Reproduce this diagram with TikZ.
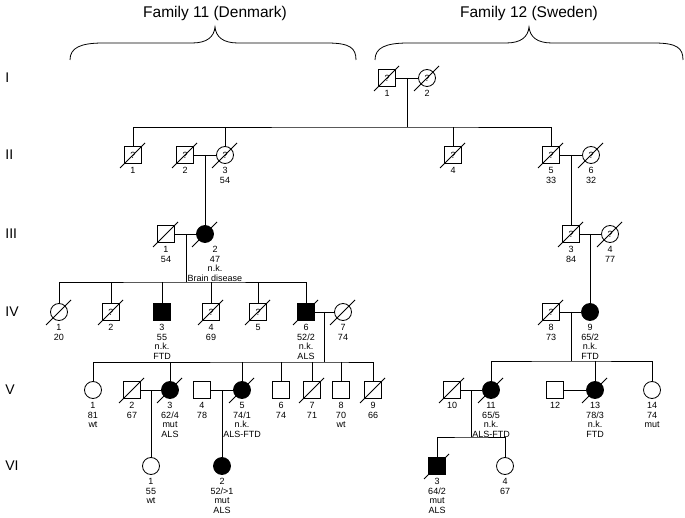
\documentclass[tikz,border=0pt]{standalone}
\usepackage{fontspec}
\setmainfont{Liberation Sans}
\begin{document}
\begin{tikzpicture}[x=1pt,y=-1pt,line width=0.8pt]
\tikzstyle{male}=[rectangle,draw,minimum size=17pt,inner sep=0pt,font=\fontsize{9}{9}\selectfont];
\tikzstyle{female}=[circle,draw,minimum size=17pt,inner sep=0pt,font=\fontsize{9}{9}\selectfont];
\tikzstyle{aff}=[fill=black];
\tikzstyle{info}=[anchor=north,yshift=-3pt,align=center,inner sep=0pt,font=\fontsize{9}{9.7}\selectfont];
\tikzstyle{gen}=[anchor=west,inner sep=0pt,font=\fontsize{14}{14}\selectfont];
\tikzstyle{family}=[font=\fontsize{15.5}{16}\selectfont];
\useasboundingbox (0,0) rectangle (685,518);

% braces
\node [family] (fam11) at (215,13) {Family 11 (Denmark)};
\node [family] (fam12) at (529,13) {Family 12 (Sweden)};
\draw (70,60) .. controls (70,48) and (80,43) .. (103,43) -- (192,43) .. controls (207,43) and (214,37) .. (215,27) .. controls (216,37) and (223,43) .. (238,43) -- (327,43) .. controls (350,43) and (356,48) .. (356,60);
\draw (375,60) .. controls (375,48) and (385,43) .. (408,43) -- (506,43) .. controls (521,43) and (528,37) .. (529,27) .. controls (530,37) and (537,43) .. (552,43) -- (654,43) .. controls (677,43) and (683,48) .. (683,60);

% generations
\node [gen] (gI) at (5,78) {I};
\node [gen] (gII) at (5,155) {II};
\node [gen] (gIII) at (5,234) {III};
\node [gen] (gIV) at (5,312) {IV};
\node [gen] (gV) at (5,390) {V};
\node [gen] (gVI) at (5,466) {VI};

% generation I
\node [male] (I1) at (387,78) {?};
\node [female] (I2) at (427,78) {?};
\node [info] (I1l) at (I1.south) {1};
\node [info] (I2l) at (I2.south) {2};

% generation II
\node [male] (II1) at (133,155) {?};
\node [male] (II2) at (185,155) {?};
\node [female] (II3) at (225,155) {?};
\node [male] (II4) at (453,155) {?};
\node [male] (II5) at (551,155) {?};
\node [female] (II6) at (591,155) {?};
\node [info] (II1l) at (II1.south) {1};
\node [info] (II2l) at (II2.south) {2};
\node [info] (II3l) at (II3.south) {3\\54};
\node [info] (II4l) at (II4.south) {4};
\node [info] (II5l) at (II5.south) {5\\33};
\node [info] (II6l) at (II6.south) {6\\32};

% generation III
\node [male] (III1) at (166,234) {};
\node [female,aff] (III2) at (205,234) {};
\node [male] (III3) at (571,234) {?};
\node [female] (III4) at (610,234) {?};
\node [info] (III1l) at (III1.south) {1\\54};
\node [info,xshift=10pt] (III2l) at (III2.south) {2\\47\\n.k.\\Brain disease};
\node [info] (III3l) at (III3.south) {3\\84};
\node [info] (III4l) at (III4.south) {4\\77};

% generation IV
\node [female] (IV1) at (59,312) {};
\node [male] (IV2) at (111,312) {?};
\node [male,aff] (IV3) at (162,312) {};
\node [male] (IV4) at (211,312) {?};
\node [male] (IV5) at (258,312) {?};
\node [male,aff] (IV6) at (306,312) {};
\node [female] (IV7) at (343,312) {};
\node [male] (IV8) at (551,312) {?};
\node [female,aff] (IV9) at (590,312) {};
\node [info] (IV1l) at (IV1.south) {1\\20};
\node [info] (IV2l) at (IV2.south) {2};
\node [info] (IV3l) at (IV3.south) {3\\55\\n.k.\\FTD};
\node [info] (IV4l) at (IV4.south) {4\\69};
\node [info] (IV5l) at (IV5.south) {5};
\node [info] (IV6l) at (IV6.south) {6\\52/2\\n.k.\\ALS};
\node [info] (IV7l) at (IV7.south) {7\\74};
\node [info] (IV8l) at (IV8.south) {8\\73};
\node [info] (IV9l) at (IV9.south) {9\\65/2\\n.k.\\FTD};

% generation V
\node [female] (V1) at (93,390) {};
\node [male] (V2) at (132,390) {};
\node [female,aff] (V3) at (170,390) {};
\node [male] (V4) at (202,390) {};
\node [female,aff] (V5) at (242,390) {};
\node [male] (V6) at (281,390) {};
\node [male] (V7) at (312,390) {};
\node [male] (V8) at (341,390) {};
\node [male] (V9) at (373,390) {};
\node [male] (V10) at (452,390) {};
\node [female,aff] (V11) at (491,390) {};
\node [male] (V12) at (555,390) {};
\node [female,aff] (V13) at (595,390) {};
\node [female] (V14) at (652,390) {};
\node [info] (V1l) at (V1.south) {1\\81\\wt};
\node [info] (V2l) at (V2.south) {2\\67};
\node [info] (V3l) at (V3.south) {3\\62/4\\mut\\ALS};
\node [info] (V4l) at (V4.south) {4\\78};
\node [info] (V5l) at (V5.south) {5\\74/1\\n.k.\\ALS-FTD};
\node [info] (V6l) at (V6.south) {6\\74};
\node [info] (V7l) at (V7.south) {7\\71};
\node [info] (V8l) at (V8.south) {8\\70\\wt};
\node [info] (V9l) at (V9.south) {9\\66};
\node [info] (V10l) at (V10.south) {10};
\node [info] (V11l) at (V11.south) {11\\65/5\\n.k.\\ALS-FTD};
\node [info] (V12l) at (V12.south) {12};
\node [info] (V13l) at (V13.south) {13\\78/3\\n.k.\\FTD};
\node [info] (V14l) at (V14.south) {14\\74\\mut};

% generation VI
\node [female] (VI1) at (151,466) {};
\node [female,aff] (VI2) at (222,466) {};
\node [male,aff] (VI3) at (437,466) {};
\node [female] (VI4) at (505,466) {};
\node [info] (VI1l) at (VI1.south) {1\\55\\wt};
\node [info] (VI2l) at (VI2.south) {2\\52/>1\\mut\\ALS};
\node [info] (VI3l) at (VI3.south) {3\\64/2\\mut\\ALS};
\node [info] (VI4l) at (VI4.south) {4\\67};

% deceased
\foreach \n in {I1,I2,II1,II2,II3,II4,II5,II6,III1,III2,III3,III4,IV1,IV2,IV4,IV5,IV6,IV7,IV8,V2,V3,V5,V7,V9,V10,V11,V13,VI3}
  \draw ([shift={(-13,13)}]\n.center) -- ([shift={(12,-12)}]\n.center);

% marriages and descent
\coordinate (m1) at (407,78);
\coordinate (c1) at (407,127);
\draw (I1) -- (I2);
\draw (m1) -- (c1);
\draw (II1) |- (c1) -| (II5);
\draw (II3) -- (II3 |- c1);
\draw (II4) -- (II4 |- c1);

\coordinate (m2) at (205,155);
\draw (II2) -- (II3);
\draw (m2) -- (III2);
\coordinate (m3) at (571,155);
\draw (II5) -- (II6);
\draw (m3) -- (III3);

\coordinate (m4) at (186,234);
\coordinate (c4) at (186,282);
\draw (III1) -- (III2);
\draw (m4) -- (c4);
\draw (IV1) |- (c4) -| (IV6);
\foreach \n in {IV2,IV3,IV4,IV5}
  \draw (\n) -- (\n |- c4);
\coordinate (m5) at (590,234);
\draw (III3) -- (III4);
\draw (m5) -- (IV9);

\coordinate (m6) at (324.5,312);
\coordinate (c6) at (324.5,362);
\draw (IV6) -- (IV7);
\draw (m6) -- (c6);
\draw (V1) |- (c6) -| (V9);
\foreach \n in {V3,V5,V6,V7,V8}
  \draw (\n) -- (\n |- c6);
\coordinate (m7) at (571,312);
\coordinate (c7) at (571,361);
\draw (IV8) -- (IV9);
\draw (m7) -- (c7);
\draw (V11) |- (c7) -| (V14);
\draw (V13) -- (V13 |- c7);

\coordinate (m8) at (151,390);
\draw (V2) -- (V3);
\draw (m8) -- (VI1);
\coordinate (m9) at (222,390);
\draw (V4) -- (V5);
\draw (m9) -- (VI2);
\coordinate (m10) at (471.5,390);
\coordinate (c10) at (471.5,437);
\draw (V10) -- (V11);
\draw (V12) -- (V13);
\draw (m10) -- (c10);
\draw (VI3) |- (c10) -| (VI4);
\end{tikzpicture}
\end{document}
